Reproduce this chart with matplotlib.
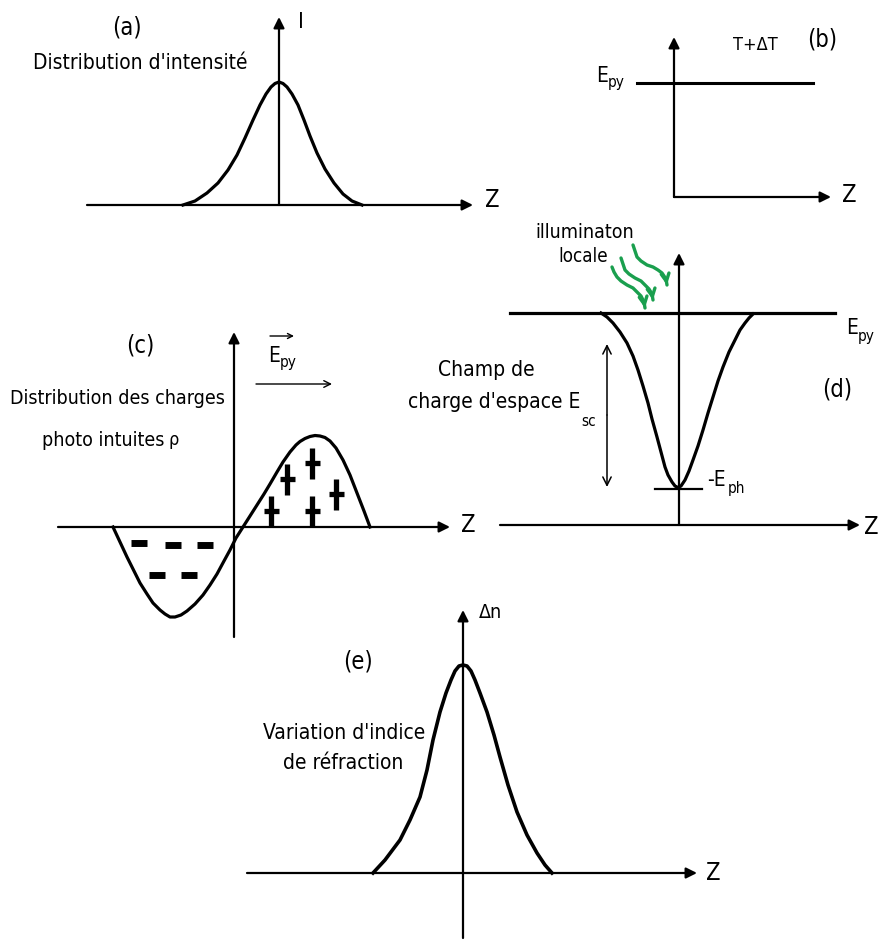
import matplotlib
matplotlib.use("Agg")
import matplotlib.pyplot as plt

# Curves (pixel coordinates, y downwards)
curve_a_x = [183, 195, 207, 218, 228, 237, 245, 253, 260, 266, 271, 275, 279, 283, 287, 292, 298, 304, 310, 317, 325, 334, 343, 352, 362]
curve_a_y = [205, 201, 193, 183, 170, 155, 138, 120, 105, 94, 87, 83.5, 82, 83.5, 87, 94, 105, 120, 136, 153, 169, 183, 194, 201, 205]

curve_c_x = [113, 120, 127, 134, 140, 147, 153, 160, 165, 170, 175, 181, 187, 195, 203, 210, 217, 224, 230, 236, 243, 250, 257, 264, 270, 277, 283, 290, 296, 300,
             305, 310, 315, 320, 325, 330, 336, 343, 350, 357, 364, 370]
curve_c_y = [527, 542, 557, 571, 583, 594, 603, 610, 614, 617, 617, 615, 611, 604, 595, 585, 574, 561, 550, 538, 527, 516, 505, 494, 484, 472, 462, 452, 445, 441.5,
             438.5, 436.5, 435.5, 436, 437.5, 441, 448, 460, 475, 493, 511, 527]

curve_d_x = [601, 607, 613, 620, 627, 633, 638, 643, 648, 652, 657, 661, 665, 668, 672, 675, 678, 681, 685, 689, 693, 698, 703, 708, 713, 718, 723, 729, 735, 740, 745, 749, 753]
curve_d_y = [313, 317, 323, 332, 343, 356, 370, 386, 403, 419, 437, 452, 467, 475, 482, 486, 487.5, 486, 480, 471, 460, 446, 430, 413, 397, 381, 367, 352, 340, 330, 323, 318, 314]

curve_e_x = [373, 385, 400, 410, 420, 427, 433, 440, 446, 451, 455, 459, 463, 467, 471, 475, 480, 487, 494, 500, 508, 517, 527, 537, 545, 552]
curve_e_y = [873, 860, 840, 820, 797, 770, 740, 712, 693, 680, 671, 666, 665, 666, 671, 680, 693, 712, 735, 757, 785, 812, 835, 853, 865, 873]

# charge markers in (c)
plus_x = [271, 287, 312, 336, 312]
plus_y = [511, 479, 463, 494, 511]
minus_x = [139, 173, 205, 157, 189]
minus_y = [543, 545, 545, 575, 575]

# green light rays in (d)
rays = [
    ([612, 614, 617, 621, 627, 633, 637, 641, 644, 645], [267, 272, 277, 281, 285, 288, 292, 296, 302, 308]),
    ([621, 623, 625, 629, 635, 641, 645, 649, 652, 653], [258, 264, 270, 274, 278, 281, 285, 289, 294, 300]),
    ([633, 635, 637, 641, 647, 653, 658, 662, 666, 667], [245, 251, 257, 261, 265, 267, 270, 273, 279, 285]),
]

GREEN = "#1a9f4e"
FONT = ["DejaVu Sans"]

fig = plt.figure(figsize=(8.8, 9.4), dpi=100)
ax = fig.add_axes([0, 0, 1, 1])
ax.set_xlim(0, 880)
ax.set_ylim(940, 0)
ax.axis("off")


def arrow(x0, y0, x1, y1, lw=1.6, style="-|>", ms=16, color="k"):
    ax.annotate("", xy=(x1, y1), xytext=(x0, y0),
                arrowprops=dict(arrowstyle=style, lw=lw, color=color,
                                mutation_scale=ms, shrinkA=0, shrinkB=0))


def txt(x, y, s, size=16, ha="center"):
    ax.text(x, y, s, fontsize=size, ha=ha, va="center", family=FONT,
            fontstretch="condensed")


# ---- (a)
arrow(87, 205, 473, 205)
arrow(279, 205, 279, 17)
ax.plot(curve_a_x, curve_a_y, color="k", lw=2.3, solid_joinstyle="round")
txt(127, 27, "(a)", 17)
txt(140, 63, "Distribution d'intensité", 15)
txt(301, 22, "I", 16)
txt(492, 200, "Z", 17)

# ---- (b)
arrow(674, 197, 674, 37)
arrow(674, 197, 831, 197)
ax.plot([637, 813], [83, 83], color="k", lw=2.2)
txt(608, 76, "E", 15, ha="right")
txt(608, 83, "py", 11, ha="left")
txt(755, 45, "T+ΔT", 13)
txt(822, 40, "(b)", 17)
txt(849, 195, "Z", 17)

# ---- (c)
arrow(58, 527, 450, 527)
arrow(234, 637, 234, 332)
ax.plot(curve_c_x, curve_c_y, color="k", lw=2.3, solid_joinstyle="round")
for px, py in zip(plus_x, plus_y):
    ax.plot([px, px], [py - 15.5, py + 15.5], color="k", lw=3.8, solid_capstyle="butt")
    ax.plot([px - 7.5, px + 7.5], [py, py], color="k", lw=3.8, solid_capstyle="butt")
for mx, my in zip(minus_x, minus_y):
    ax.plot([mx - 8, mx + 8], [my, my], color="k", lw=5, solid_capstyle="butt")
txt(140, 345, "(c)", 17)
txt(117, 398, "Distribution des charges", 14)
txt(164, 440, "photo intuites", 14, ha="right")
txt(168, 440, "ρ", 13, ha="left")
arrow(270, 336, 294, 336, lw=1.0, style="->", ms=9)
txt(280, 356, "E", 15, ha="right")
txt(280, 363, "py", 11, ha="left")
arrow(256, 384, 332, 384, lw=1.0, style="->", ms=12)
txt(468, 525, "Z", 17)

# ---- (d)
arrow(500, 525, 860, 525)
arrow(679, 525, 679, 253)
ax.plot([510, 835], [313, 313], color="k", lw=2.3)
ax.plot(curve_d_x, curve_d_y, color="k", lw=2.3, solid_joinstyle="round")
ax.plot([655, 702], [489, 489], color="k", lw=1.6)
arrow(607, 415, 607, 344, lw=1.1, style="->", ms=15)
arrow(607, 415, 607, 487, lw=1.1, style="->", ms=15)
for rx, ry in rays:
    ax.plot(rx, ry, color=GREEN, lw=2.4, solid_capstyle="round", solid_joinstyle="round")
    arrow(rx[-2], ry[-2], rx[-1], ry[-1], lw=2.4, style="->", ms=14, color=GREEN)
txt(585, 232, "illuminaton", 14)
txt(583, 257, "locale", 13.5)
txt(486, 370, "Champ de", 15)
txt(580, 402, "charge d'espace E", 15, ha="right")
txt(581, 421, "sc", 11, ha="left")
txt(858, 328, "E", 15, ha="right")
txt(858, 336, "py", 11, ha="left")
txt(837, 390, "(d)", 17)
txt(707, 480, "-E", 15, ha="left")
txt(728, 488, "ph", 11, ha="left")
txt(871, 527, "Z", 17)

# ---- (e)
arrow(247, 873, 697, 873)
arrow(463, 938, 463, 610)
ax.plot(curve_e_x, curve_e_y, color="k", lw=2.6, solid_joinstyle="round")
txt(490, 612, "Δn", 14)
txt(358, 662, "(e)", 17)
txt(344, 733, "Variation d'indice", 15)
txt(343, 763, "de réfraction", 15)
txt(713, 873, "Z", 17)

fig.savefig("out.png", dpi=100)
